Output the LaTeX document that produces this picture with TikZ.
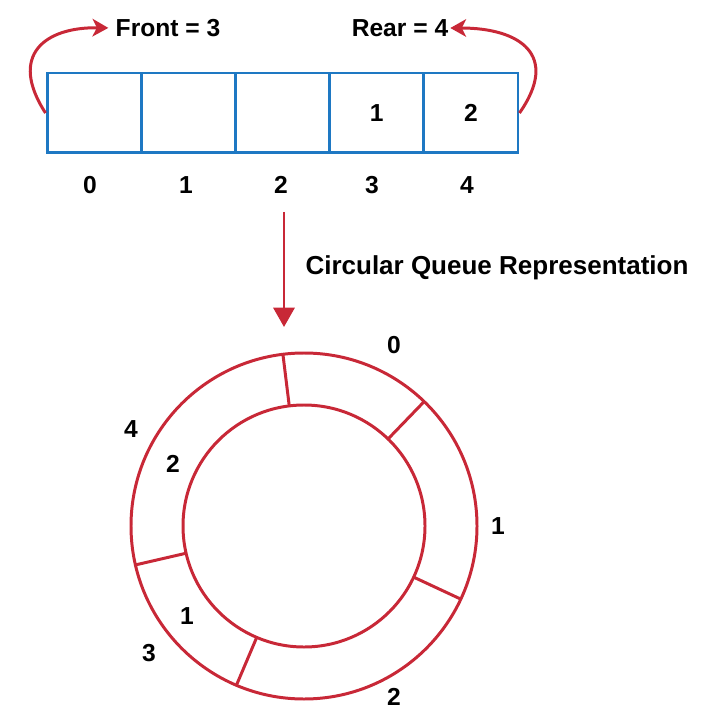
\documentclass[tikz,border=0pt]{standalone}
\usepackage{fontspec}
\setmainfont{Liberation Sans}
\usetikzlibrary{arrows.meta, positioning}
\definecolor{qblue}{RGB}{30,120,195}
\definecolor{qred}{RGB}{200,40,55}

\begin{document}
\begin{tikzpicture}[x=0.02cm, y=-0.02cm]
    % Setup the styles for the cells, labels and ring
        \tikzset{cell style/.style={draw=qblue,
                                    line width=1.7pt,
                                    minimum width=1.884cm,
                                    minimum height=1.6cm,
                                    inner sep=0pt,
                                    font=\bfseries\fontsize{14}{16}\selectfont},
                 label style/.style={inner sep=1pt,
                                     font=\bfseries\fontsize{14}{16}\selectfont},
                 ring style/.style={draw=qred, line width=1.7pt}}
        \useasboundingbox (0,0) rectangle (709,719);
        % Draw the array cells
        \node[cell style] at (94.1, 113)  (c0) {};
        \node[cell style] at (188.3, 113) (c1) {};
        \node[cell style] at (282.5, 113) (c2) {};
        \node[cell style] at (376.7, 113) (c3) {1};
        \node[cell style] at (470.9, 113) (c4) {2};
        % Indices below the cells
        \node[label style] at (90, 185)  (i0) {0};
        \node[label style] at (186, 185) (i1) {1};
        \node[label style] at (281, 185) (i2) {2};
        \node[label style] at (372, 185) (i3) {3};
        \node[label style] at (467, 185) (i4) {4};
        % Front and rear pointers
        \node[label style] at (168, 28) (front) {Front = 3};
        \node[label style] at (400, 28) (rear) {Rear = 4};
        \draw[qred, line width=1.7pt, shorten >=3pt, -{Stealth[length=9pt, width=10pt, inset=2.5pt]}]
        (c0.west) .. controls (8, 55) and (45, 27) .. (front.west);
        \draw[qred, line width=1.7pt, -{Stealth[length=9pt, width=10pt, inset=2.5pt]}]
        (c4.east) .. controls (560, 55) and (520, 28) .. (rear.east);
        % Arrow to the circular representation
        \coordinate (down top) at (284, 212);
        \coordinate (down end) at (284, 327);
        \draw[qred, line width=1.7pt, -{Triangle[length=11pt, width=12pt]}] (down top) -- (down end);
        \node[label style, font=\bfseries\fontsize{14.8}{16}\selectfont] at (497, 268) (caption) {Circular Queue Representation};
        % Draw the ring
        \coordinate (ctr) at (304, 526);
        \draw[ring style] (ctr) circle (173);
        \draw[ring style] (ctr) circle (121);
        \foreach \a in {-97, -46, 25, 113, 167}
            \draw[ring style] ([shift={(\a:121)}]ctr) -- ([shift={(\a:173)}]ctr);
        % Ring indices and values
        \node[label style] at (394, 345) (r0) {0};
        \node[label style] at (498, 526) (r1) {1};
        \node[label style] at (394, 697) (r2) {2};
        \node[label style] at (149, 653) (r3) {3};
        \node[label style] at (131, 429) (r4) {4};
        \node[label style] at (173, 464) (v2) {2};
        \node[label style] at (187, 616) (v1) {1};
\end{tikzpicture}
\end{document}
